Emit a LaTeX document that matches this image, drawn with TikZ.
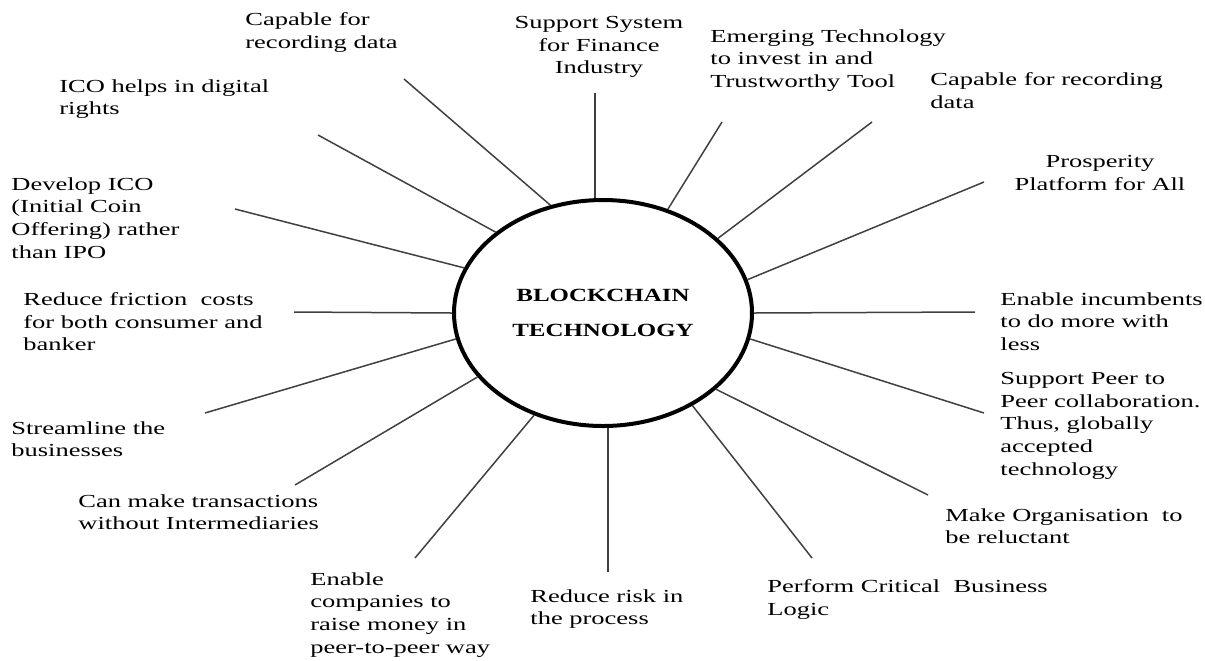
\documentclass[tikz,border=0pt]{standalone}
\usepackage{fontspec}
\setmainfont{Liberation Serif}[FakeStretch=1.44]
\newfontfamily\titlefont{Liberation Serif}[FakeStretch=1.34]
\usetikzlibrary{shapes.geometric}

\begin{document}
\begin{tikzpicture}[x=0.5pt,y=-0.5pt,
		hub/.style={draw,ellipse,line width=2pt,minimum width=149pt,minimum height=113pt,inner sep=0pt,align=center,font=\titlefont\bfseries\fontsize{9.3}{17.5}\selectfont},
		spoke/.style={black!75,line width=0.75pt},
		txt/.style={inner sep=0pt,align=left,font=\fontsize{9.2}{11.35}\selectfont},
		ctxt/.style={txt,align=center,anchor=north}]
		\useasboundingbox (0,0) rectangle (1205,660);

		\node[hub]									(bc)	at (603,313)	{BLOCKCHAIN\\TECHNOLOGY};

		\node[ctxt]								(l0)	at (599,16)		{Support System\\for Finance\\Industry};
		\node[txt,anchor=north west]				(l1)	at (710,29)		{Emerging Technology\\to invest in and\\Trustworthy Tool};
		\node[txt,anchor=north west]				(l2)	at (930,72)		{Capable for recording\\data};
		\node[ctxt]								(l3)	at (1100,155)	{Prosperity\\Platform for All};
		\node[txt,anchor=north west]				(l4)	at (1000,292)	{Enable incumbents\\to do more with\\less};
		\node[txt,anchor=north west]				(l5)	at (1000,372)	{Support Peer to\\Peer collaboration.\\Thus, globally\\accepted\\technology};
		\node[txt,anchor=north west]				(l6)	at (945,508)	{Make Organisation\ \ to\\be reluctant};
		\node[txt,anchor=north west]				(l7)	at (767,579)	{Perform Critical\ \ Business\\Logic};
		\node[txt,anchor=north west]				(l8)	at (530,589)	{Reduce risk in\\the process};
		\node[txt,anchor=north west]				(l9)	at (310,572)	{Enable\\companies to\\raise money in\\peer-to-peer way};
		\node[txt,anchor=north west]				(l10)	at (78,494)		{Can make transactions\\without Intermediaries};
		\node[txt,anchor=north west]				(l11)	at (11,421)		{Streamline the\\businesses};
		\node[txt,anchor=north west]				(l12)	at (23,292)		{Reduce friction\ \ costs\\for both consumer and\\banker};
		\node[txt,anchor=north west]				(l13)	at (11,177)		{Develop ICO\\(Initial Coin\\Offering) rather\\than IPO};
		\node[txt,anchor=north west]				(l14)	at (59,79)		{ICO helps in digital\\rights};
		\node[txt,anchor=north west]				(l15)	at (245,12)		{Capable for\\recording data};

		\coordinate (e0)	at (595,93);
		\coordinate (e1)	at (722,122);
		\coordinate (e2)	at (872,122);
		\coordinate (e3)	at (984,182);
		\coordinate (e4)	at (975,312);
		\coordinate (e5)	at (984,413);
		\coordinate (e6)	at (928,495);
		\coordinate (e7)	at (812,558);
		\coordinate (e8)	at (608,572);
		\coordinate (e9)	at (415,558);
		\coordinate (e10)	at (295,485);
		\coordinate (e11)	at (205,413);
		\coordinate (e12)	at (294,312);
		\coordinate (e13)	at (235,209);
		\coordinate (e14)	at (318,135);
		\coordinate (e15)	at (404,79);

		\draw[spoke] (e0) -- (e0 |- bc.north);
		\draw[spoke] (e1) -- (bc.58.1);
		\draw[spoke] (e2) -- (bc.33.5);
		\draw[spoke] (e3) -- (bc.13.7);
		\draw[spoke] (e4) -- (bc.0);
		\draw[spoke] (e5) -- (bc.350);
		\draw[spoke] (e6) -- (bc.326.2);
		\draw[spoke] (e7) -- (bc.314.1);
		\draw[spoke] (e8) -- (e8 |- bc.south);
		\draw[spoke] (e9) -- (bc.236.2);
		\draw[spoke] (e10) -- (bc.207.3);
		\draw[spoke] (e11) -- (bc.190.2);
		\draw[spoke] (e12) -- (bc.180);
		\draw[spoke] (e13) -- (bc.162.6);
		\draw[spoke] (e14) -- (bc.143.3);
		\draw[spoke] (e15) -- (bc.116.6);
	\end{tikzpicture}
\end{document}
